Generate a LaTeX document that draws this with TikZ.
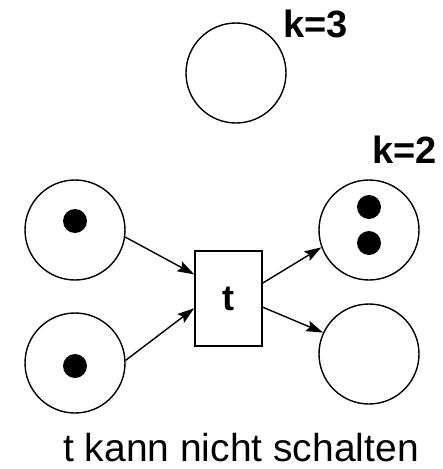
\documentclass[tikz,border=0pt]{standalone}
\usepackage{fontspec}
\setmainfont{Liberation Sans}
\usetikzlibrary{arrows.meta,calc}
\begin{document}
\begin{tikzpicture}[x=1pt,y=-1pt,
  place/.style={draw,circle,line width=1.4pt,minimum size=100pt,inner sep=0pt},
  token/.style={fill,circle,minimum size=24pt,inner sep=0pt},
  trans/.style={draw,rectangle,line width=1.4pt,minimum width=67pt,minimum height=95pt,inner sep=0pt,font=\fontsize{36}{40}\selectfont\bfseries},
  arc/.style={line width=1.4pt,-{Stealth[length=17pt,width=11pt,inset=3pt]}},
  kcap/.style={font=\fontsize{38}{40}\selectfont\bfseries,inner sep=0pt,anchor=base west}]
  \useasboundingbox (0,0) rectangle (443,469);

  % places
  \node[place] (top) at (236,73) {};
  \node[place] (inA) at (75,230) {};
  \node[place] (inB) at (75,363) {};
  \node[place] (outA) at (369,230) {};
  \node[place] (outB) at (369,354) {};

  % tokens
  \node[token] (tA) at (75,221) {};
  \node[token] (tB) at (75,366) {};
  \node[token] (tC1) at (369,207) {};
  \node[token] (tC2) at (369,243) {};

  % capacities
  \node[kcap] (k3) at (283,37) {k=3};
  \node[kcap] (k2) at (372,163) {k=2};

  % transition
  \node[trans] (t) at (228.5,298.5) {t};

  % connection points on the transition
  \coordinate (tinA) at ($(t.north west)!0.25!(t.south west)$);
  \coordinate (tinB) at ($(t.north west)!0.6!(t.south west)$);
  \coordinate (toutA) at ($(t.north east)!0.34!(t.south east)$);
  \coordinate (toutB) at ($(t.north east)!0.59!(t.south east)$);

  % arcs
  \draw[arc] (inA.-8) -- (tinA);
  \draw[arc] (inB.3) -- (tinB);
  \draw[arc] (toutA) -- (outA.-160);
  \draw[arc] (toutB) -- (outB.155);

  % caption
  \node[font=\fontsize{39}{44}\selectfont,inner sep=0pt,anchor=base west] (caption) at (63,461) {t kann nicht schalten};
\end{tikzpicture}
\end{document}
